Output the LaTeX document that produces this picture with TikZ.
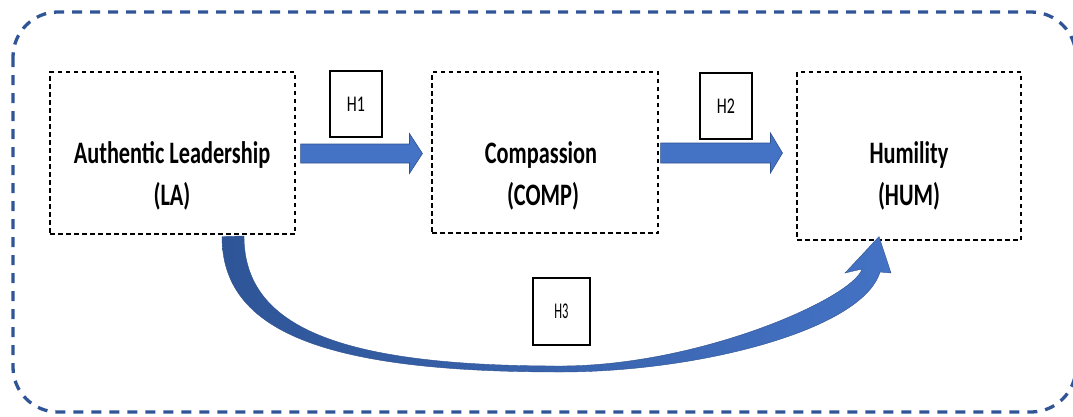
\documentclass[tikz,border=0pt]{standalone}
\usepackage{fontspec}
\setmainfont{Carlito}
\usetikzlibrary{calc}
\definecolor{arrowfill}{HTML}{4472C4}
\definecolor{arrowedge}{HTML}{2F528F}
\definecolor{arcdark}{HTML}{2E5597}
\definecolor{framecol}{HTML}{2F5597}
\begin{document}
\begin{tikzpicture}[x=1pt,y=-1pt,
  varbox/.style={draw=black, line width=1.1pt, dash pattern=on 4.5pt off 3.5pt, inner sep=0pt},
  hbox/.style={draw=black, line width=1.3pt, fill=white, inner sep=0pt, minimum width=52pt, minimum height=66pt, font=\fontsize{16}{18}\selectfont},
  lbl/.style={anchor=base, inner sep=0pt, font=\bfseries\fontsize{22.3}{26}\selectfont},
  barrow/.style={fill=arrowfill, draw=arrowedge, line width=0.6pt, line join=miter}
]
\useasboundingbox (0,0) rectangle (1073,416);
% outer frame
\draw[framecol, line width=3.3pt, dash pattern=on 10pt off 8pt, rounded corners=45pt] (13,12) rectangle (1076,412);

% variable boxes
\node[varbox, minimum width=245pt, minimum height=162pt] (la) at (172.5,153) {};
\node[varbox, minimum width=226pt, minimum height=161pt] (comp) at (545,152.5) {};
\node[varbox, minimum width=224pt, minimum height=168pt] (hum) at (909,156) {};

\node[lbl] (la1) at (172,163) {\scalebox{1}[1.4]{Authentic Leadership}};
\node[lbl] (la2) at (172,205) {\scalebox{1}[1.4]{(LA)}};
\node[lbl] (co1) at (541,163) {\scalebox{1}[1.4]{Compassion}};
\node[lbl] (co2) at (543,205) {\scalebox{1}[1.4]{(COMP)}};
\node[lbl] (hu1) at (909,163) {\scalebox{1}[1.4]{Humility}};
\node[lbl] (hu2) at (909,205) {\scalebox{1}[1.4]{(HUM)}};

% straight arrows
\coordinate (a1s) at ($(la.east)+(5,0.5)$);
\coordinate (a1e) at ($(comp.west)+(-9,1)$);
\draw[barrow] ($(a1s)+(0,-9.5)$) -- ($(a1e)+(-13,-9.5)$) -- ($(a1e)+(-13,-20)$) -- (a1e)
  -- ($(a1e)+(-13,20)$) -- ($(a1e)+(-13,9.5)$) -- ($(a1s)+(0,9.5)$) -- cycle;
\coordinate (a2s) at ($(comp.east)+(2,0.5)$);
\coordinate (a2e) at ($(hum.west)+(-14,-3)$);
\draw[barrow] ($(a2s)+(0,-10)$) -- ($(a2e)+(-12,-10)$) -- ($(a2e)+(-12,-20)$) -- (a2e)
  -- ($(a2e)+(-12,20)$) -- ($(a2e)+(-12,10)$) -- ($(a2s)+(0,10)$) -- cycle;

% curved arrow
\coordinate (c3s) at ($(la.south)+(49.5,2)$);
\coordinate (c3t) at ($(hum.south)+(-30,-4)$);
\draw[left color=arcdark, right color=arrowfill, draw=arrowedge, line width=0.4pt, line join=miter]
  (c3s) .. controls (222,331) and (323,372) .. (560,372)
  .. controls (700,372) and (862.6,329.6) .. (880,272)
  -- (891,273) -- (c3t) -- (845,273) -- (862,269)
  .. controls (853,298) and (700,366) .. (560,366)
  .. controls (339,366) and (244,327) .. (244,236) -- cycle;

% hypothesis boxes
\node[hbox] (h1) at (356,104) {\scalebox{1}[1.4]{H1}};
\node[hbox] (h2) at (726,106) {\scalebox{1}[1.4]{H2}};
\node[hbox, minimum width=57pt, minimum height=67pt, font=\fontsize{12.5}{14}\selectfont] (h3) at (561.5,311.5) {\scalebox{1}[1.8]{H3}};
\end{tikzpicture}
\end{document}
